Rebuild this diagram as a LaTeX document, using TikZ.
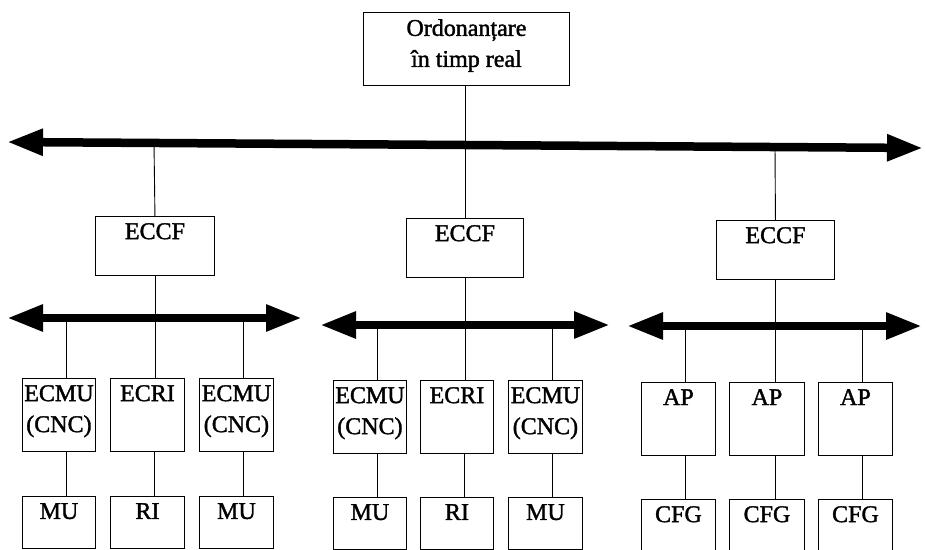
\documentclass[tikz,border=0pt]{standalone}
\usepackage{fontspec}
\setmainfont{Liberation Serif}
\newfontfamily\labelfont[FakeBold=1.5]{Liberation Serif}
\usetikzlibrary{arrows.meta}
\begin{document}
\begin{tikzpicture}[x=1pt,y=-1pt,
  box/.style={draw, line width=0.9pt, inner sep=0pt, anchor=north west},
  lbl/.style={anchor=north, inner sep=0pt, yshift=-7pt, align=center,
    font=\labelfont\fontsize{24}{31}\selectfont},
  wire/.style={line width=0.9pt},
  bus/.style={line width=8.5pt, {Triangle[length=36pt,width=25pt]}-{Triangle[length=36pt,width=25pt]}}]
\useasboundingbox (0,0) rectangle (926,549);

% top-level scheduler
\node[box, minimum width=206pt, minimum height=73pt] (ord) at (363,12) {};
\node[lbl] (ordt) at (ord.north) {Ordonanțare\\în timp real};

% main bus
\coordinate (mbL) at (7,142);
\coordinate (mbR) at (923,148);
\draw[bus] (mbL) -- (mbR);

% cell controllers
\node[box, minimum width=119pt, minimum height=59pt] (cL) at (95,216) {};
\node[box, minimum width=117pt, minimum height=59pt] (cM) at (406,218) {};
\node[box, minimum width=118pt, minimum height=59pt] (cR) at (716,220) {};
\node[lbl] (cLt) at (cL.north) {ECCF};
\node[lbl] (cMt) at (cM.north) {ECCF};
\node[lbl] (cRt) at (cR.north) {ECCF};

\coordinate (jL) at (154,143);
\coordinate (jR) at (775,147);
\draw[wire] (ord.south -| cM.north) -- (cM.north);
\draw[wire] (jL) -- (cL.north);
\draw[wire] (jR) -- (cR.north);

% cell buses
\coordinate (bLl) at (7,318);   \coordinate (bLr) at (302,318);
\coordinate (bMl) at (320,325); \coordinate (bMr) at (610,325);
\coordinate (bRl) at (627,326); \coordinate (bRr) at (922,326);
\draw[bus] (bLl) -- (bLr);
\draw[bus] (bMl) -- (bMr);
\draw[bus] (bRl) -- (bRr);

% second row: equipment controllers
\foreach \n/\x/\y/\w/\t in {
  a1/22/378/73/{ECMU\\(CNC)}, a2/110/378/74/{ECRI}, a3/199/378/74/{ECMU\\(CNC)},
  b1/333/380/73/{ECMU\\(CNC)}, b2/420/380/73/{ECRI}, b3/508/380/74/{ECMU\\(CNC)},
  c1/641/382/74/{AP}, c2/729/382/75/{AP}, c3/818/382/74/{AP}} {
  \node[box, minimum width=\w pt, minimum height=73pt] (\n) at (\x,\y) {};
  \node[lbl] (\n t) at (\n.north) {\t};
}

% third row: machines
\foreach \n/\x/\y/\w/\t in {
  d1/22/496/73/MU, d2/110/496/74/RI, d3/199/496/74/MU,
  e1/333/497/73/MU, e2/420/497/73/RI, e3/508/497/74/MU,
  f1/641/499/74/CFG, f2/729/499/75/CFG, f3/818/499/74/CFG} {
  \node[box, minimum width=\w pt, minimum height=52pt] (\n) at (\x,\y) {};
  \node[lbl] (\n t) at (\n.north) {\t};
}

% drop points on the cell buses
\coordinate (ka1) at (66,318);  \coordinate (ka2) at (154,318); \coordinate (ka3) at (243,318);
\coordinate (kb1) at (377,325); \coordinate (kb2) at (464,325); \coordinate (kb3) at (552,325);
\coordinate (kc1) at (685,326); \coordinate (kc2) at (775,326); \coordinate (kc3) at (862,326);

\draw[wire] (cL.south) -- (a2.north -| cL.south);
\draw[wire] (cM.south) -- (b2.north -| cM.south);
\draw[wire] (cR.south) -- (c2.north -| cR.south);
\foreach \k in {1,3} {
  \draw[wire] (ka\k) -- (a\k.north -| ka\k);
  \draw[wire] (kb\k) -- (b\k.north -| kb\k);
  \draw[wire] (kc\k) -- (c\k.north -| kc\k);
}
\foreach \k in {1,2,3} {
  \draw[wire] (a\k.south -| ka\k) -- (d\k.north -| ka\k);
  \draw[wire] (b\k.south -| kb\k) -- (e\k.north -| kb\k);
  \draw[wire] (c\k.south -| kc\k) -- (f\k.north -| kc\k);
}
\end{tikzpicture}
\end{document}
